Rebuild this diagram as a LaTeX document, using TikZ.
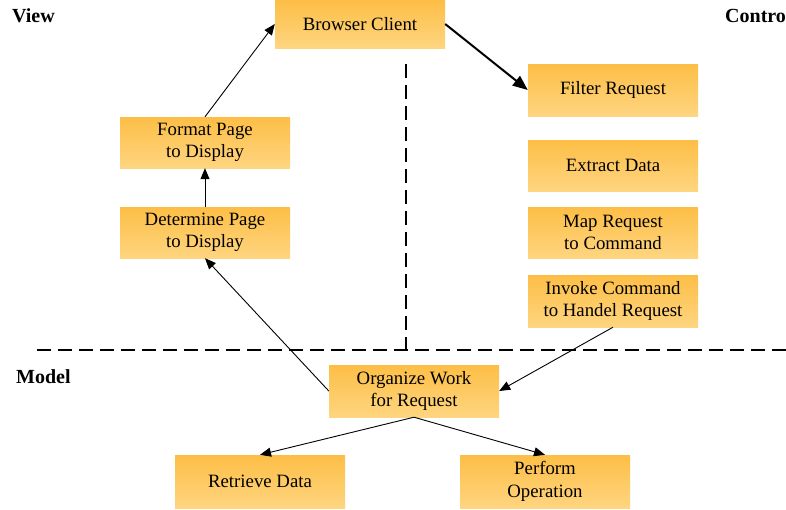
\documentclass[tikz,border=0pt]{standalone}
\usepackage{fontspec}
\setmainfont{Liberation Serif}
\usetikzlibrary{arrows.meta}

\definecolor{boxtop}{RGB}{253,190,70}
\definecolor{boxbot}{RGB}{254,213,128}

\tikzset{
  box/.style={top color=boxtop, bottom color=boxbot, draw=none,
    minimum width=170pt, minimum height=52pt, inner sep=0pt,
    align=center, font=\fontsize{18.8}{22.5}\selectfont},
  flow/.style={line width=0.9pt, -{Triangle[length=11pt,width=9pt]}},
  bigflow/.style={line width=2pt, -{Triangle[length=15pt,width=12pt]}},
  divider/.style={line width=2pt, dash pattern=on 14pt off 7pt},
  tier/.style={font=\fontsize{20}{24}\selectfont\bfseries, anchor=base west, inner sep=0pt}
}

\begin{document}
\begin{tikzpicture}[x=1pt, y=-1pt]
  \clip (0,0) rectangle (786,509);
  \useasboundingbox (0,0) rectangle (786,509);

  % tier labels (the controller label runs past the right edge)
  \node[tier] (lview) at (12,22) {View};
  \node[tier] (lctrl) at (725,22) {Controller};
  \node[tier] (lmodel) at (16,383) {Model};

  % tier dividers
  \coordinate (hl) at (37,350);
  \coordinate (hr) at (786,350);
  \coordinate (vt) at (406,64);
  \coordinate (vb) at (406,350);
  \draw[divider] (hl) -- (hr);
  \draw[divider] (vt) -- (vb);

  % view
  \node[box, minimum height=48pt] (bc) at (360,24) {Browser Client};
  \node[box, minimum height=51pt] (fmt) at (205,142.5) {Format Page\\to Display};
  \node[box, minimum height=51pt] (det) at (205,232.5) {Determine Page\\to Display};

  % controller
  \node[box] (flt) at (613,90) {Filter Request};
  \node[box, minimum height=51pt] (ext) at (613,165.5) {Extract Data};
  \node[box, minimum height=51pt] (map) at (613,232.5) {Map Request\\to Command};
  \node[box] (inv) at (613,301) {Invoke Command\\to Handel Request};

  % model
  \node[box] (org) at (414,391) {Organize Work\\for Request};
  \node[box, minimum height=53pt] (ret) at (260,481.5) {Retrieve Data};
  \node[box, minimum height=53pt] (prf) at (545,481.5) {Perform\\Operation};

  % request flow
  \draw[bigflow] (bc.east) -- (flt.west);
  \draw[flow] (inv.south) -- (org.east);
  \draw[flow] (org.south) -- (ret.north);
  \draw[flow] (org.south) -- (prf.north);
  \draw[flow] (org.west) -- (det.south);
  \draw[flow] (det.north) -- (fmt.south);
  \draw[flow] (fmt.north) -- (bc.west);
\end{tikzpicture}
\end{document}
